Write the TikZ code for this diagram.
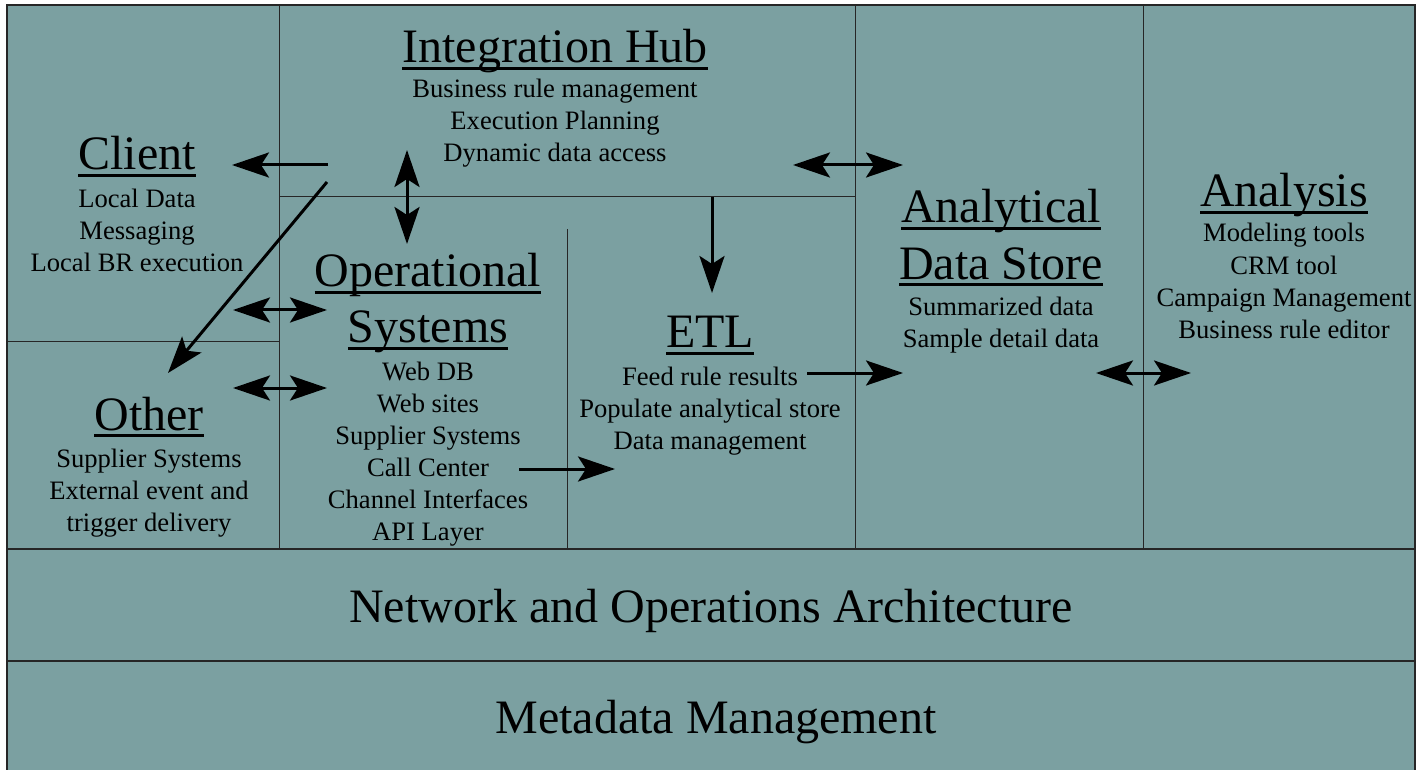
\documentclass[tikz,border=0pt]{standalone}
\usepackage{fontspec}
\setmainfont{Liberation Serif}
\usetikzlibrary{arrows.meta}
\definecolor{panel}{RGB}{123,160,161}
\newcommand\myul[1]{\setbox0\hbox{#1}\rlap{\rule[-3.4pt]{\wd0}{1.6pt}}\box0}
\begin{document}
\begin{tikzpicture}[x=0.5pt,y=-0.5pt,
  ttl/.style={font=\fontsize{24}{28}\selectfont, anchor=base, inner sep=0pt, align=center},
  % multi-line lists: anchor=base sits on the LAST line's baseline
  itm/.style={font=\fontsize{13.3}{16}\selectfont, anchor=base, inner sep=0pt, align=center},
  big/.style={font=\fontsize{24}{28}\selectfont, anchor=base, inner sep=0pt},
  grid/.style={line width=0.5pt, draw=black!85},
  rowline/.style={line width=1pt, draw=black!85},
  tip/.tip={Stealth[length=18.5pt,width=12.5pt,inset=4pt]},
  flow/.style={line width=1.5pt, -tip},
  both/.style={line width=1.5pt, tip-tip}
]
\useasboundingbox (0,0) rectangle (1419,770);
\fill[panel] (7,5) rectangle (1415,780);
% grid
\draw[grid] (279,5) -- (279,549);
\draw[grid] (279,197) -- (855,197);
\draw[grid] (567,229) -- (567,549);
\draw[grid] (855,5) -- (855,549);
\draw[grid] (1143,5) -- (1143,549);
\draw[grid] (7,341) -- (279,341);
\draw[rowline] (7,549) -- (1415,549);
\draw[rowline] (7,661) -- (1415,661);
\draw[rowline] (7,780) -- (7,5) -- (1415,5) -- (1415,780);

% Integration Hub
\node[ttl] (ihT) at (555,63) {\myul{Integration Hub}};
\node[itm] (ihL) at (555,162) {Business rule management\\Execution Planning\\Dynamic data access};
% Client
\node[ttl] (clT) at (137,170) {\myul{Client}};
\node[itm] (clL) at (137,271) {Local Data\\Messaging\\Local BR execution};
% Other
\node[ttl] (otT) at (149,430) {\myul{Other}};
\node[itm] (otL) at (149,531) {Supplier Systems\\External event and\\trigger delivery};
% Operational Systems
\node[ttl] (osT1) at (428,287) {\myul{Operational}};
\node[ttl] (osT2) at (428,343) {\myul{Systems}};
\node[itm] (osL) at (428,540) {Web DB\\Web sites\\Supplier Systems\\Call Center\\Channel Interfaces\\API Layer};
% ETL
\node[ttl] (etT) at (710,348) {\myul{ETL}};
\node[itm] (etL) at (710,449) {Feed rule results\\Populate analytical store\\Data management};
% Analytical Data Store
\node[ttl] (adT1) at (1001,223) {\myul{Analytical}};
\node[ttl] (adT2) at (1001,279) {\myul{Data Store}};
\node[itm] (adL) at (1001,347) {Summarized data\\Sample detail data};
% Analysis
\node[ttl] (anT) at (1284,207) {\myul{Analysis}};
\node[itm] (anL) at (1284,338) {Modeling tools\\CRM tool\\Campaign Management\\Business rule editor};
% bottom rows
\node[big] (net) at (711,622) {Network and Operations Architecture};
\node[big] (meta) at (716,733) {Metadata Management};

% arrow end points
\coordinate (cl1) at (328,165); \coordinate (cl2) at (232,165);
\coordinate (dg1) at (327,182); \coordinate (dg2) at (168,373);
\coordinate (v1) at (407,150);  \coordinate (v2) at (407,244);
\coordinate (h1) at (233,310);  \coordinate (h2) at (327,310);
\coordinate (h3) at (233,388);  \coordinate (h4) at (327,388);
\coordinate (ih1) at (793,165); \coordinate (ih2) at (903,165);
\coordinate (d1) at (712,197);  \coordinate (d2) at (712,293);
\coordinate (f1) at (807,373);  \coordinate (f2) at (903,373);
\coordinate (a1) at (1096,373); \coordinate (a2) at (1191,373);
\coordinate (c1) at (519,469);  \coordinate (c2) at (615,469);

\draw[flow] (cl1) -- (cl2);
\draw[flow] (dg1) -- (dg2);
\draw[both] (v1) -- (v2);
\draw[both] (h1) -- (h2);
\draw[both] (h3) -- (h4);
\draw[both] (ih1) -- (ih2);
\draw[flow] (d1) -- (d2);
\draw[flow] (f1) -- (f2);
\draw[both] (a1) -- (a2);
\draw[flow] (c1) -- (c2);
\end{tikzpicture}
\end{document}
